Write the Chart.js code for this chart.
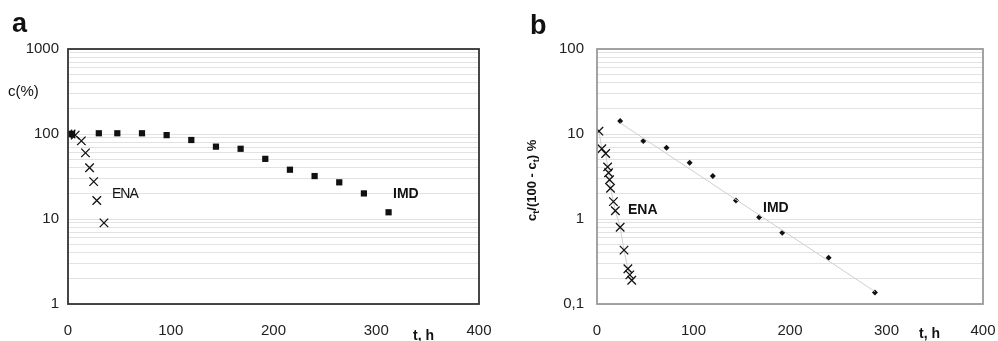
<!DOCTYPE html>
<html>
<head>
<meta charset="utf-8">
<script src="https://cdn.jsdelivr.net/npm/chart.js@4.4.1/dist/chart.umd.min.js"></script>
<style>
  body { margin: 0; background: #fff; font-family: "Liberation Sans", Arial, sans-serif; }
  #wrap { position: relative; width: 998px; height: 341px; overflow: hidden; }
  .box { position: absolute; top: 0; width: 499px; height: 341px; }
  .txt { position: absolute; color: #111; white-space: nowrap; line-height: 1; }
</style>
</head>
<body>
<div id="wrap">
  <div class="box" style="left:0"><canvas id="chartA"></canvas></div>
  <div class="box" style="left:499px"><canvas id="chartB"></canvas></div>

  <div class="txt" style="left:12px;top:10px;font-size:27px;font-weight:bold">a</div>
  <div class="txt" style="left:8px;top:83px;font-size:15px">c(%)</div>
  <div class="txt" style="left:112px;top:186px;font-size:14px;letter-spacing:-1px">ENA</div>
  <div class="txt" style="left:393px;top:186px;font-size:14px;font-weight:bold">IMD</div>
  <div class="txt" style="left:413px;top:328px;font-size:14px;font-weight:bold">t, h</div>

  <div class="txt" style="left:530px;top:12px;font-size:27px;font-weight:bold">b</div>
  <div class="txt" style="left:480px;top:172px;width:106px;text-align:center;font-size:13px;font-weight:bold;transform:rotate(-90deg)">c<sub style="font-size:9px">t</sub>/(100 - c<sub style="font-size:9px">t</sub>) %</div>
  <div class="txt" style="left:628px;top:202px;font-size:14px;font-weight:bold">ENA</div>
  <div class="txt" style="left:763px;top:200px;font-size:14px;font-weight:bold">IMD</div>
  <div class="txt" style="left:919px;top:326px;font-size:14px;font-weight:bold">t, h</div>
</div>

<script>
// panel a: c(%) against t, h
const aEnaT = [0, 3, 7, 13, 17, 21, 25, 28, 35];
const aEnaC = [100, 100, 97, 83, 60, 40, 27.5, 16.5, 9];
const aImdT = [0, 4, 30, 48, 72, 96, 120, 144, 168, 192, 216, 240, 264, 288, 312];
const aImdC = [100, 100, 102, 102, 102, 97, 85, 71, 67, 51, 38, 32, 27, 20, 12];

// panel b: ct/(100 - ct) % against t, h
const bEnaT = [2, 5, 9, 11, 12, 13, 14, 17, 19, 24, 28, 32, 34, 36];
const bEnaV = [10.8, 6.7, 5.9, 4.1, 3.5, 2.9, 2.3, 1.6, 1.25, 0.8, 0.43, 0.26, 0.22, 0.19];
const bImdT = [24, 48, 72, 96, 120, 144, 168, 192, 240, 288];
const bImdV = [14.2, 8.3, 6.9, 4.6, 3.2, 1.65, 1.05, 0.69, 0.35, 0.137];
const bTrendT = [24, 288];
const bTrendV = [13.5, 0.14];

// ticks
const xTicks = [0, 100, 200, 300, 400];
const aYTicks = [1, 2, 3, 4, 5, 6, 7, 8, 9, 10, 20, 30, 40, 50, 60, 70, 80, 90,
  100, 200, 300, 400, 500, 600, 700, 800, 900, 1000];
const bYTicks = [0.1, 0.2, 0.3, 0.4, 0.5, 0.6, 0.7, 0.8, 0.9, 1, 2, 3, 4, 5, 6, 7, 8, 9,
  10, 20, 30, 40, 50, 60, 70, 80, 90, 100];

function pts(xs, ys) {
  return xs.map((x, i) => ({ x: x, y: ys[i] }));
}

function isDecade(v) {
  const l = Math.log10(v);
  return Math.abs(l - Math.round(l)) < 1e-9;
}

// frame around the plot area
function framePlugin(color, width) {
  return {
    id: "frame",
    afterDraw(chart) {
      const a = chart.chartArea;
      const ctx = chart.ctx;
      ctx.save();
      ctx.strokeStyle = color;
      ctx.lineWidth = width;
      ctx.strokeRect(a.left, a.top, a.right - a.left, a.bottom - a.top);
      ctx.restore();
    }
  };
}

function makeOptions(yTicks, yMin, yMax, yWidth, padRight, yPad, gridColor) {
  return {
    responsive: true,
    maintainAspectRatio: false,
    animation: false,
    layout: { padding: { top: 49, right: padRight, left: 0, bottom: 0 } },
    plugins: { legend: { display: false }, tooltip: { enabled: false } },
    scales: {
      x: {
        type: "linear",
        min: 0,
        max: 400,
        afterBuildTicks: s => { s.ticks = xTicks.map(v => ({ value: v })); },
        afterFit: s => {
          s.height = 37;
          s.paddingLeft = 0;
          s.paddingRight = 0;
        },
        grid: { display: false, drawTicks: false },
        border: { display: false },
        ticks: {
          padding: 18,
          color: "#222",
          font: { family: "Liberation Sans", size: 15 },
          maxRotation: 0
        }
      },
      y: {
        type: "logarithmic",
        min: yMin,
        max: yMax,
        afterBuildTicks: s => { s.ticks = yTicks.map(v => ({ value: v })); },
        afterFit: s => {
          s.width = yWidth;
          s.paddingTop = 0;
          s.paddingBottom = 0;
        },
        grid: { color: gridColor, lineWidth: 1, drawTicks: false },
        border: { display: false },
        ticks: {
          padding: yPad,
          color: "#222",
          autoSkip: false,
          font: { family: "Liberation Sans", size: 15 },
          callback: v => isDecade(v) ? String(v).replace(".", ",") : ""
        }
      }
    }
  };
}

new Chart(document.getElementById("chartA"), {
  type: "scatter",
  data: {
    datasets: [
      {
        label: "ENA",
        data: pts(aEnaT, aEnaC),
        pointStyle: "crossRot",
        pointRadius: 6,
        borderColor: "#111",
        borderWidth: 1.3,
        showLine: false
      },
      {
        label: "IMD",
        data: pts(aImdT, aImdC),
        pointStyle: "rect",
        pointRadius: 4.4,
        backgroundColor: "#111",
        borderColor: "#111",
        borderWidth: 0,
        showLine: false
      }
    ]
  },
  options: makeOptions(aYTicks, 1, 1000, 68, 20, 9, "#e2e2e2"),
  plugins: [framePlugin("#333", 1.8)]
});

new Chart(document.getElementById("chartB"), {
  type: "scatter",
  data: {
    datasets: [
      {
        label: "IMD trend",
        data: pts(bTrendT, bTrendV),
        showLine: true,
        pointRadius: 0,
        borderColor: "#cfcfcf",
        borderWidth: 1
      },
      {
        label: "ENA",
        data: pts(bEnaT, bEnaV),
        showLine: true,
        pointStyle: "crossRot",
        pointRadius: 6,
        borderColor: "#cfcfcf",
        pointBorderColor: "#111",
        pointBorderWidth: 1.3,
        borderWidth: 1
      },
      {
        label: "IMD",
        data: pts(bImdT, bImdV),
        pointStyle: "rectRot",
        pointRadius: 3,
        backgroundColor: "#111",
        borderColor: "#111",
        borderWidth: 0,
        showLine: false
      }
    ]
  },
  options: makeOptions(bYTicks, 0.1, 100, 98, 15, 13, "#e2e2e2"),
  plugins: [framePlugin("#9a9a9a", 1.8)]
});
</script>
</body>
</html>
